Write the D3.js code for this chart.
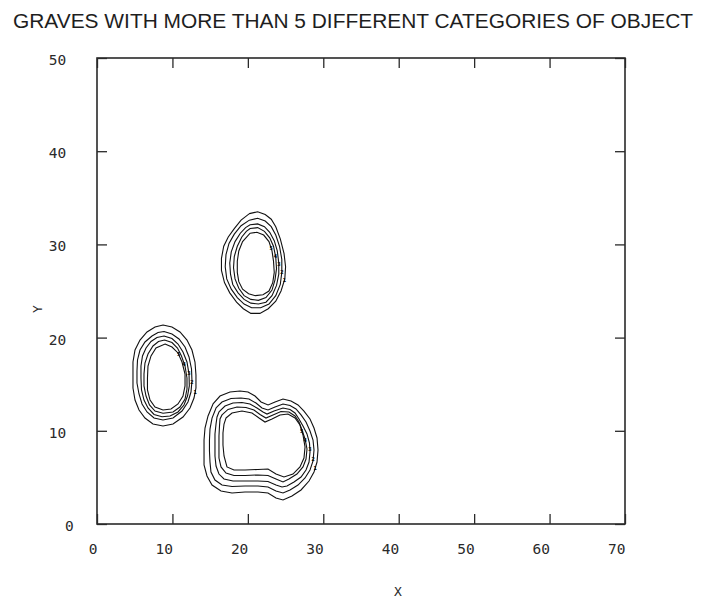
<!DOCTYPE html>
<html>
<head>
<meta charset="utf-8">
<script src="https://cdn.jsdelivr.net/npm/d3@7"></script>
<style>
  html, body { margin: 0; padding: 0; background: #fff; }
  svg { display: block; }
  text { -webkit-font-smoothing: antialiased; }
</style>
</head>
<body>
<svg id="chart" width="706" height="603"></svg>
<script>
// ---------------- data ----------------
const chartTitle = "GRAVES WITH MORE THAN 5 DIFFERENT CATEGORIES OF OBJECT";
const xLabel = "X";
const yLabel = "Y";
const xTicks = [0, 10, 20, 30, 40, 50, 60, 70];
const yTicks = [0, 10, 20, 30, 40, 50];
const contourLevels = ["1", "2", "3", "4", "5"];

// cluster near (21, 28): rings from outer (level 1) to inner (level 5)
const clusterTopRing1 = [[20.2,33.3],[21.3,33.5],[22.3,33.2],[23.1,32.7],[23.7,31.9],[24.3,30.6],[24.8,29.0],[25.0,27.6],[24.9,26.3],[24.4,25.0],[23.7,23.9],[22.7,23.1],[21.6,22.6],[20.4,22.6],[19.4,23.1],[18.5,23.8],[17.6,24.8],[16.9,25.9],[16.5,27.2],[16.5,28.5],[16.8,29.8],[17.4,30.8],[18.2,31.7],[19.1,32.6]];
const clusterTopRing2 = [[20.2,32.6],[21.3,32.8],[22.3,32.5],[23.1,31.9],[23.7,31.0],[24.2,29.8],[24.5,28.4],[24.5,27.0],[24.3,25.7],[23.7,24.5],[22.8,23.6],[21.7,23.2],[20.5,23.2],[19.5,23.6],[18.6,24.3],[17.8,25.2],[17.2,26.3],[17.0,27.6],[17.1,28.9],[17.5,30.1],[18.2,31.1],[19.1,32.0]];
const clusterTopRing3 = [[20.3,32.1],[21.3,32.2],[22.2,31.9],[22.9,31.3],[23.5,30.4],[23.9,29.3],[24.1,28.0],[24.1,26.8],[23.8,25.6],[23.2,24.5],[22.4,23.8],[21.4,23.6],[20.4,23.7],[19.5,24.1],[18.7,24.8],[18.0,25.7],[17.7,26.8],[17.6,28.0],[17.8,29.2],[18.3,30.3],[19.0,31.2],[19.7,31.8]];
const clusterTopRing4 = [[20.3,31.7],[21.3,31.8],[22.2,31.4],[22.9,30.7],[23.4,29.8],[23.7,28.6],[23.8,27.4],[23.6,26.2],[23.2,25.1],[22.4,24.3],[21.4,24.0],[20.4,24.1],[19.5,24.5],[18.8,25.3],[18.3,26.3],[18.1,27.5],[18.2,28.7],[18.6,29.8],[19.2,30.8],[19.8,31.4]];
const clusterTopRing5 = [[20.3,31.2],[21.2,31.3],[22.1,31.0],[22.8,30.3],[23.2,29.3],[23.4,28.2],[23.5,27.0],[23.3,25.9],[22.8,25.0],[22.0,24.6],[21.0,24.5],[20.1,24.7],[19.3,25.2],[18.8,26.0],[18.6,27.0],[18.6,28.2],[18.8,29.3],[19.3,30.3]];

// cluster near (9, 16)
const clusterLeftRing1 = [[8.75,21.35],[9.94,21.14],[11.00,20.60],[11.93,19.74],[12.59,18.67],[12.99,17.38],[13.12,15.99],[13.12,14.59],[12.86,13.52],[12.33,12.45],[11.40,11.48],[10.08,10.73],[8.75,10.52],[7.42,10.73],[6.36,11.37],[5.57,12.23],[5.04,13.30],[4.77,14.59],[4.77,15.99],[4.77,17.38],[5.04,18.67],[5.70,19.74],[6.63,20.60],[7.69,21.14]];
const clusterLeftRing2 = [[8.88,20.65],[9.94,20.39],[10.87,19.85],[11.67,18.99],[12.20,17.92],[12.53,16.63],[12.59,15.34],[12.46,14.16],[12.06,13.09],[11.27,12.12],[10.08,11.37],[8.75,11.16],[7.56,11.37],[6.63,12.02],[5.97,12.88],[5.57,13.95],[5.30,15.13],[5.30,16.42],[5.37,17.60],[5.70,18.67],[6.36,19.53],[7.29,20.17],[8.09,20.55]];
const clusterLeftRing3 = [[8.88,20.17],[9.94,19.90],[10.74,19.31],[11.40,18.45],[11.93,17.38],[12.20,16.09],[12.24,14.81],[12.00,13.73],[11.53,12.77],[10.74,12.02],[9.68,11.59],[8.62,11.51],[7.56,11.75],[6.76,12.45],[6.23,13.30],[5.90,14.38],[5.83,15.67],[5.83,16.95],[6.03,18.03],[6.50,18.88],[7.16,19.58],[7.95,20.01]];
const clusterLeftRing4 = [[8.95,19.74],[9.94,19.47],[10.67,18.88],[11.20,18.03],[11.67,16.95],[11.93,15.67],[11.93,14.48],[11.67,13.41],[11.00,12.55],[10.08,12.02],[8.75,11.88],[7.69,12.12],[6.96,12.77],[6.50,13.73],[6.23,14.81],[6.23,16.09],[6.36,17.27],[6.76,18.24],[7.42,19.10],[8.15,19.58]];
const clusterLeftRing5 = [[9.02,19.31],[9.94,18.99],[10.74,18.35],[11.27,17.38],[11.67,16.09],[11.67,14.81],[11.40,13.73],[10.74,12.88],[9.81,12.34],[8.75,12.23],[7.69,12.55],[7.03,13.30],[6.69,14.38],[6.69,15.67],[6.76,16.95],[7.16,18.03],[7.82,18.88]];

// cluster near (22, 8)
const clusterBottomRing1 = [[15.38,12.88],[16.31,13.73],[17.63,14.16],[18.96,14.27],[20.02,14.16],[20.95,13.73],[21.75,13.09],[22.68,12.77],[23.60,13.09],[24.66,13.41],[25.72,13.20],[26.65,12.77],[27.44,12.12],[28.24,11.27],[28.77,10.30],[29.17,9.23],[29.30,7.94],[29.17,6.65],[28.77,5.58],[28.11,4.61],[27.05,3.65],[25.85,3.00],[24.66,2.58],[23.73,2.79],[22.67,3.33],[21.34,3.43],[19.62,3.43],[17.90,3.33],[16.44,3.54],[15.25,4.18],[14.58,5.15],[14.19,6.33],[14.19,7.73],[14.19,9.01],[14.32,10.30],[14.72,11.59]];
const clusterBottomRing2 = [[15.78,12.45],[16.57,13.09],[17.76,13.47],[19.09,13.52],[20.15,13.41],[21.08,12.98],[21.87,12.45],[22.67,12.23],[23.60,12.55],[24.66,12.88],[25.59,12.71],[26.38,12.34],[27.05,11.70],[27.71,10.94],[28.24,9.98],[28.64,9.01],[28.77,7.94],[28.64,6.76],[28.24,5.79],[27.58,4.94],[26.65,4.18],[25.59,3.65],[24.66,3.33],[23.73,3.54],[22.67,3.97],[21.34,4.08],[19.62,4.08],[17.90,4.02],[16.57,4.18],[15.64,4.72],[15.11,5.58],[14.98,6.65],[14.91,7.83],[14.91,9.01],[14.98,10.19],[15.25,11.37]];
const clusterBottomRing3 = [[16.17,12.02],[16.97,12.66],[18.03,12.98],[19.22,13.04],[20.28,12.88],[21.21,12.45],[22.01,12.02],[22.54,11.80],[23.47,12.12],[24.66,12.45],[25.59,12.29],[26.25,11.91],[26.78,11.27],[27.31,10.52],[27.84,9.66],[28.17,8.69],[28.24,7.73],[28.11,6.65],[27.71,5.79],[27.05,5.04],[26.12,4.51],[25.19,4.08],[24.53,3.97],[23.73,4.18],[22.67,4.56],[21.34,4.61],[19.62,4.61],[18.03,4.61],[16.84,4.83],[16.17,5.36],[15.78,6.22],[15.64,7.30],[15.64,8.48],[15.64,9.66],[15.78,10.73],[15.91,11.48]];
const clusterBottomRing4 = [[16.57,11.70],[17.37,12.29],[18.56,12.55],[19.75,12.50],[20.81,12.23],[21.61,11.75],[22.40,11.37],[23.33,11.70],[24.39,12.07],[25.45,12.02],[26.25,11.59],[26.78,10.94],[27.18,10.09],[27.58,9.12],[27.84,8.05],[27.71,6.97],[27.31,6.12],[26.51,5.36],[25.45,4.83],[24.66,4.51],[23.73,4.83],[22.67,5.20],[21.34,5.26],[19.62,5.20],[18.16,5.20],[17.10,5.47],[16.44,6.12],[16.17,7.08],[16.17,8.26],[16.17,9.44],[16.24,10.52],[16.31,11.27]];
const clusterBottomRing5 = [[17.10,11.37],[17.90,11.91],[19.22,12.12],[20.55,11.91],[21.48,11.37],[22.27,10.94],[23.20,11.27],[24.26,11.70],[25.32,11.80],[26.25,11.37],[26.91,10.62],[27.31,9.55],[27.58,8.26],[27.44,7.08],[26.91,6.12],[25.98,5.36],[24.79,5.04],[23.73,5.36],[22.67,5.90],[21.34,5.85],[19.62,5.79],[18.16,5.79],[17.23,6.12],[16.84,7.30],[16.70,8.48],[16.70,9.76],[16.84,10.73]];

// ---------------- layout ----------------
const svg = d3.select("#chart");
const x = d3.scaleLinear().domain([0, 70]).range([97, 625]);
const y = d3.scaleLinear().domain([0, 50]).range([524, 58]);
const ink = "#2a2a2a";
const monoFont = "'DejaVu Sans Mono', monospace";

// title
svg.append("text")
  .attr("x", 353).attr("y", 28)
  .attr("text-anchor", "middle")
  .attr("font-family", "'Liberation Sans', Arial, sans-serif")
  .attr("font-size", 20.5)
  .attr("textLength", 680)
  .attr("lengthAdjust", "spacingAndGlyphs")
  .attr("fill", "#1e1e1e")
  .text(chartTitle);

// inward ticks on all four sides
const tickLen = 10;
const gAxes = svg.append("g").attr("class", "axes");
gAxes.append("g").attr("transform", `translate(0,${y(0)})`)
  .call(d3.axisBottom(x).tickValues(xTicks).tickSize(-tickLen).tickFormat(""));
gAxes.append("g").attr("transform", `translate(0,${y(50)})`)
  .call(d3.axisTop(x).tickValues(xTicks).tickSize(-tickLen).tickFormat(""));
gAxes.append("g").attr("transform", `translate(${x(0)},0)`)
  .call(d3.axisLeft(y).tickValues(yTicks).tickSize(-tickLen).tickFormat(""));
gAxes.append("g").attr("transform", `translate(${x(70)},0)`)
  .call(d3.axisRight(y).tickValues(yTicks).tickSize(-tickLen).tickFormat(""));
gAxes.selectAll(".domain").remove();
gAxes.selectAll(".tick line").attr("stroke", ink).attr("stroke-width", 1.3);

// frame
svg.append("rect")
  .attr("x", x(0)).attr("y", y(50))
  .attr("width", x(70) - x(0)).attr("height", y(0) - y(50))
  .attr("fill", "none").attr("stroke", ink).attr("stroke-width", 1.6);

// tick labels
svg.append("g").selectAll("text").data(xTicks).join("text")
  .attr("x", d => x(d) + 0.5)
  .attr("y", 553.5)
  .attr("text-anchor", "end")
  .attr("font-family", monoFont).attr("font-size", 14.5)
  .attr("fill", ink)
  .text(d => d);

svg.append("g").selectAll("text").data(yTicks).join("text")
  .attr("x", d => String(d).length === 1 ? 73.8 : 66.3)
  .attr("y", d => y(d) + 6.9)
  .attr("text-anchor", "end")
  .attr("font-family", monoFont).attr("font-size", 14.5)
  .attr("fill", ink)
  .text(d => d);

// axis titles
svg.append("text")
  .attr("x", 398).attr("y", 596)
  .attr("text-anchor", "middle")
  .attr("font-family", monoFont).attr("font-size", 13)
  .attr("fill", ink).text(xLabel);
svg.append("text")
  .attr("transform", "translate(42,309) rotate(-90)")
  .attr("text-anchor", "middle")
  .attr("font-family", monoFont).attr("font-size", 13)
  .attr("fill", ink).text(yLabel);

// contours
const clusters = [
  { rings: [clusterTopRing1, clusterTopRing2, clusterTopRing3, clusterTopRing4, clusterTopRing5], labelY0: 26.2, labelDy: 0.85 },
  { rings: [clusterLeftRing1, clusterLeftRing2, clusterLeftRing3, clusterLeftRing4, clusterLeftRing5], labelY0: 14.2, labelDy: 1.0 },
  { rings: [clusterBottomRing1, clusterBottomRing2, clusterBottomRing3, clusterBottomRing4, clusterBottomRing5], labelY0: 6.0, labelDy: 1.0 }
];

const line = d3.line()
  .x(d => x(d[0])).y(d => y(d[1]))
  .curve(d3.curveLinearClosed);

// rightmost crossing of a closed ring with the horizontal line at value t
function rightCrossing(ring, t) {
  let best = null;
  for (let i = 0; i < ring.length; i++) {
    const a = ring[i], b = ring[(i + 1) % ring.length];
    if ((a[1] - t) * (b[1] - t) <= 0 && a[1] !== b[1]) {
      const f = (t - a[1]) / (b[1] - a[1]);
      const xx = a[0] + f * (b[0] - a[0]);
      if (best === null || xx > best) best = xx;
    }
  }
  return best;
}

const gC = svg.append("g").attr("class", "contours");
clusters.forEach(c => {
  c.rings.forEach(ring => {
    gC.append("path")
      .attr("d", line(ring))
      .attr("fill", "none")
      .attr("stroke", "#111")
      .attr("stroke-width", 1.1)
      .attr("stroke-linejoin", "miter");
  });
  // contour level labels along the right side of each ring
  c.rings.forEach((ring, k) => {
    const t = c.labelY0 + k * c.labelDy;
    const cxv = rightCrossing(ring, t);
    if (cxv === null) return;
    gC.append("text")
      .attr("x", x(cxv))
      .attr("y", y(t) + 2)
      .attr("text-anchor", "middle")
      .attr("font-family", monoFont)
      .attr("font-size", 5.5)
      .attr("font-weight", "bold")
      .attr("fill", "#000")
      .text(contourLevels[k]);
  });
});
</script>
</body>
</html>
